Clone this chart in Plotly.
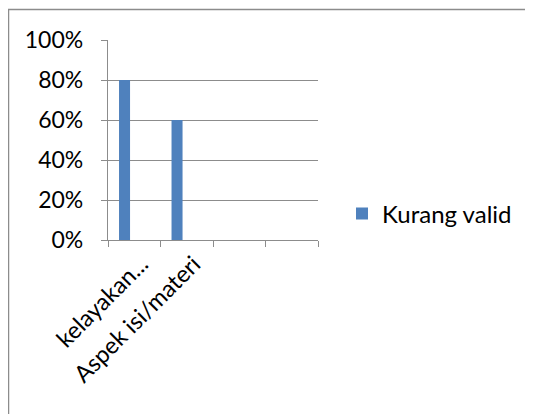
import plotly.graph_objects as go

categories = ["kelayakan...", "Aspek isi/materi", " ", "  "]
kurang_valid = [0.8, 0.6, None, None]
y_ticks = [0, 0.2, 0.4, 0.6, 0.8, 1.0]
y_tick_labels = ["0%", "20%", "40%", "60%", "80%", "100%"]

FONT = "Lato"
GRID = "#8c8c8c"

fig = go.Figure()
fig.add_trace(go.Bar(
    x=categories, y=kurang_valid, name="Kurang valid",
    marker=dict(color="#4F81BD", line=dict(width=0)),
    width=0.21, offset=-0.29,
))

# page has an 8px body margin; coordinates below are figure coordinates
W, H = 525, 406
L, T = 100, 32
pw, ph = 210, 200
R, B = W - L - pw, H - T - ph

fig.update_layout(
    width=W, height=H,
    margin=dict(l=L, r=R, t=T, b=B, pad=0),
    paper_bgcolor="white", plot_bgcolor="white",
    font=dict(family=FONT, size=23, color="black"),
    showlegend=True,
    legend=dict(x=(334 - L) / pw, y=(T + ph - 206) / ph, xanchor="left", yanchor="middle",
                font=dict(family=FONT, size=24, color="black"),
                bgcolor="rgba(0,0,0,0)", itemwidth=30),
    xaxis=dict(
        type="category", categoryorder="array", categoryarray=categories,
        range=[-0.5, 3.5],
        showline=True, linecolor=GRID, linewidth=1.3,
        ticks="outside", ticklen=6, tickcolor=GRID, tickwidth=1.3,
        tickson="boundaries", showgrid=False,
        tickangle=-45, tickfont=dict(family=FONT, size=23.5, color="black"),
        ticklabelshift=7, ticklabelstandoff=0,
        fixedrange=True,
    ),
    yaxis=dict(
        range=[0, 1], tickvals=y_ticks, ticktext=y_tick_labels,
        showline=True, linecolor=GRID, linewidth=1.3,
        ticks="outside", ticklen=6, tickcolor=GRID, tickwidth=1.3,
        showgrid=True, gridcolor=GRID, gridwidth=1.3,
        zeroline=False, ticklabelstandoff=13,
        tickfont=dict(family=FONT, size=23, color="black"),
        fixedrange=True,
    ),
    shapes=[dict(
        type="rect", xref="paper", yref="paper",
        x0=(0.5 - L) / pw, x1=(560 - L) / pw,
        y0=(T + ph - 440) / ph, y1=(T + ph - 1.5) / ph,
        line=dict(color="#8c8c8c", width=1.5), fillcolor="rgba(0,0,0,0)", layer="below",
    )],
)

fig.write_html("out.html")
